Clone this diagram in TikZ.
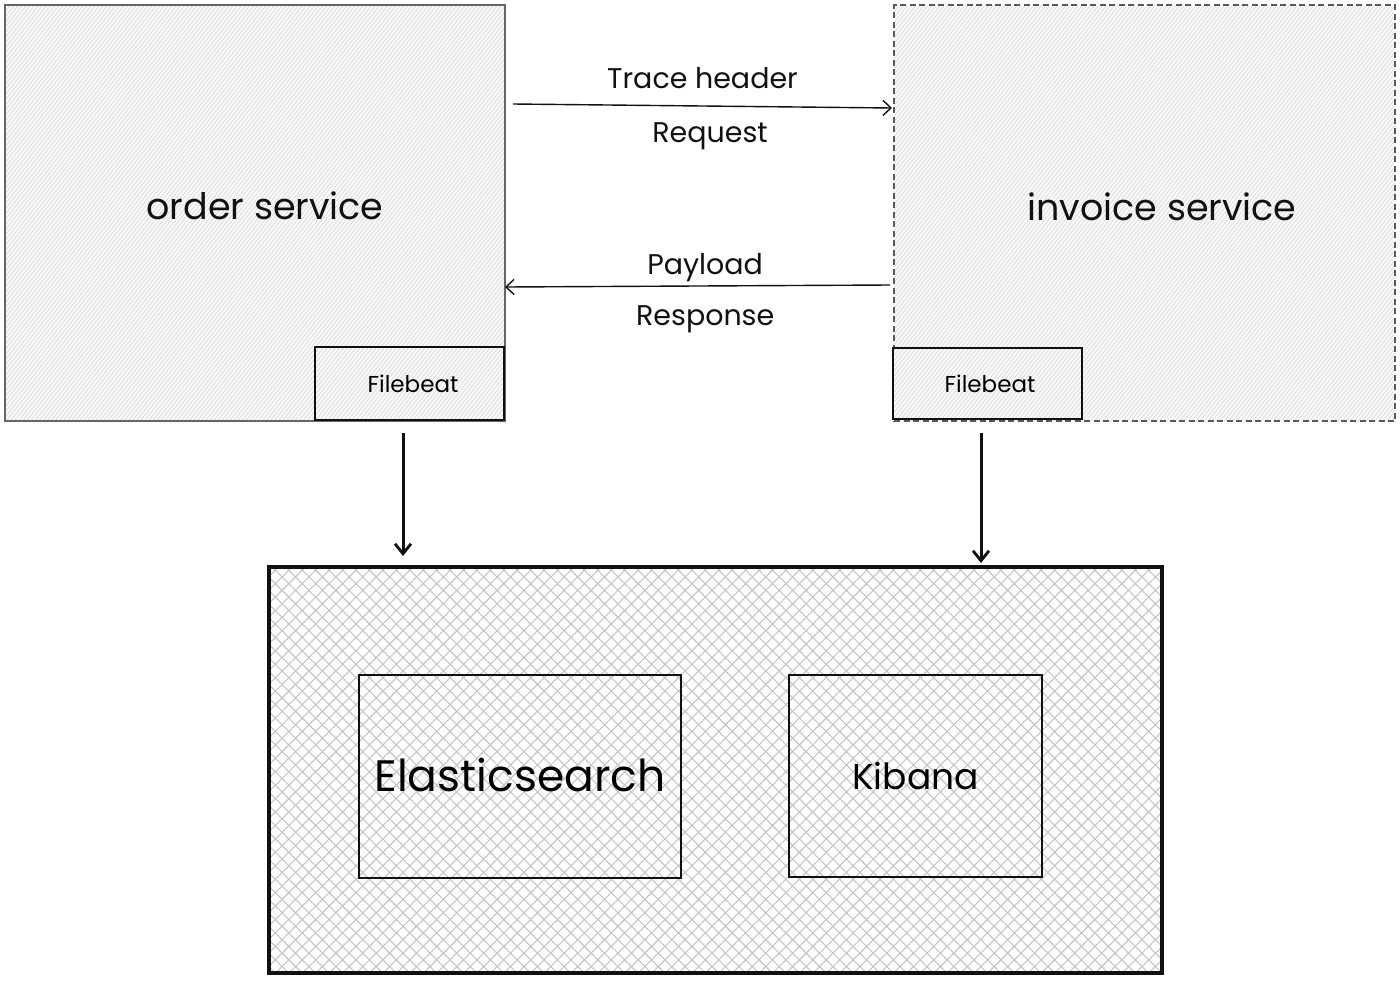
\documentclass[tikz,border=0pt]{standalone}
\usepackage{fontspec}
\setmainfont{Poppins}
\usetikzlibrary{arrows.meta,patterns.meta}
\definecolor{ink}{HTML}{111111}
\definecolor{hatchgray}{HTML}{D2D2D2}
\definecolor{xgray}{HTML}{C6C6C6}
\tikzset{
  svcbox/.style={rectangle, inner sep=0pt, outer sep=0pt, anchor=north west,
    preaction={fill=gray!5}, pattern={Lines[angle=52,distance=3.2pt,line width=0.5pt]},
    pattern color=hatchgray},
  fbbox/.style={rectangle, draw=ink, line width=2.6pt, inner sep=0pt, outer sep=0pt, anchor=north west,
    preaction={fill=gray!5}, pattern={Lines[angle=52,distance=3.2pt,line width=0.5pt]},
    pattern color=hatchgray, font=\fontsize{23}{26}\selectfont},
  xbox/.style={rectangle, draw=ink, inner sep=0pt, outer sep=0pt, anchor=north west,
    preaction={fill=white}, pattern={Hatch[angle=45,distance=9.5pt,line width=1.1pt]},
    pattern color=xgray},
  msg/.style={ink, line width=1.4pt, -{Straight Barb[length=8pt,width=15pt,line width=1.4pt]}},
  flow/.style={ink, line width=3pt, -{Straight Barb[length=10pt,width=16pt,line width=2.8pt]}},
  svclabel/.style={text=ink, font=\fontsize{36.5}{42}\selectfont},
  msglabel/.style={text=ink, font=\fontsize{28.5}{32}\selectfont},
}
\begin{document}
\begin{tikzpicture}[x=1pt,y=-1pt]
\useasboundingbox (0,0) rectangle (1400,980);
% service boxes
\node[svcbox, draw=gray!80!black, line width=1.6pt, minimum width=500pt, minimum height=416pt] (os) at (5,5) {};
\node[svcbox, draw=gray!70!black, line width=1.4pt, dash pattern=on 6pt off 3.5pt, minimum width=501pt, minimum height=416pt] (is) at (894,5) {};
\node[svclabel] (oslabel) at (265,206) {order service};
\node[svclabel] (islabel) at (1162,207) {invoice service};
% filebeat boxes
\node[fbbox, minimum width=189pt, minimum height=73pt] (ofb) at (315,347) {\hspace*{7pt}Filebeat};
\node[fbbox, minimum width=189pt, minimum height=71pt] (ifb) at (893,348) {\hspace*{5pt}Filebeat};
% ELK
\node[xbox, line width=3.6pt, minimum width=893pt, minimum height=406pt] (elk) at (269,567) {};
\node[xbox, line width=2.6pt, minimum width=322pt, minimum height=203pt, font=\fontsize{44}{50}\selectfont] (es) at (359,675) {\raisebox{3pt}{Elasticsearch}};
\node[xbox, line width=2.6pt, minimum width=253pt, minimum height=202pt, font=\fontsize{36}{42}\selectfont] (kb) at (789,675) {Kibana};
% messages
\draw[msg] ([shift={(8,99)}]os.north east) -- node[msglabel, pos=0.5, yshift=28pt] (th) {Trace header} node[msglabel, pos=0.52, yshift=-30pt] (rq) {Request} ([shift={(-2,103)}]is.north west);
\draw[msg] ([shift={(-4,280)}]is.north west) -- node[msglabel, pos=0.48, yshift=18pt] (pl) {Payload} node[msglabel, pos=0.48, yshift=-33pt] (rs) {Response} ([shift={(0,282)}]os.north east);
% filebeat flows
\draw[flow] ([shift={(88,13)}]ofb.south west) -- ([shift={(134,-11)}]elk.north west);
\draw[flow] ([shift={(88,14)}]ifb.south west) -- ([shift={(712,-4)}]elk.north west);
\end{tikzpicture}
\end{document}
